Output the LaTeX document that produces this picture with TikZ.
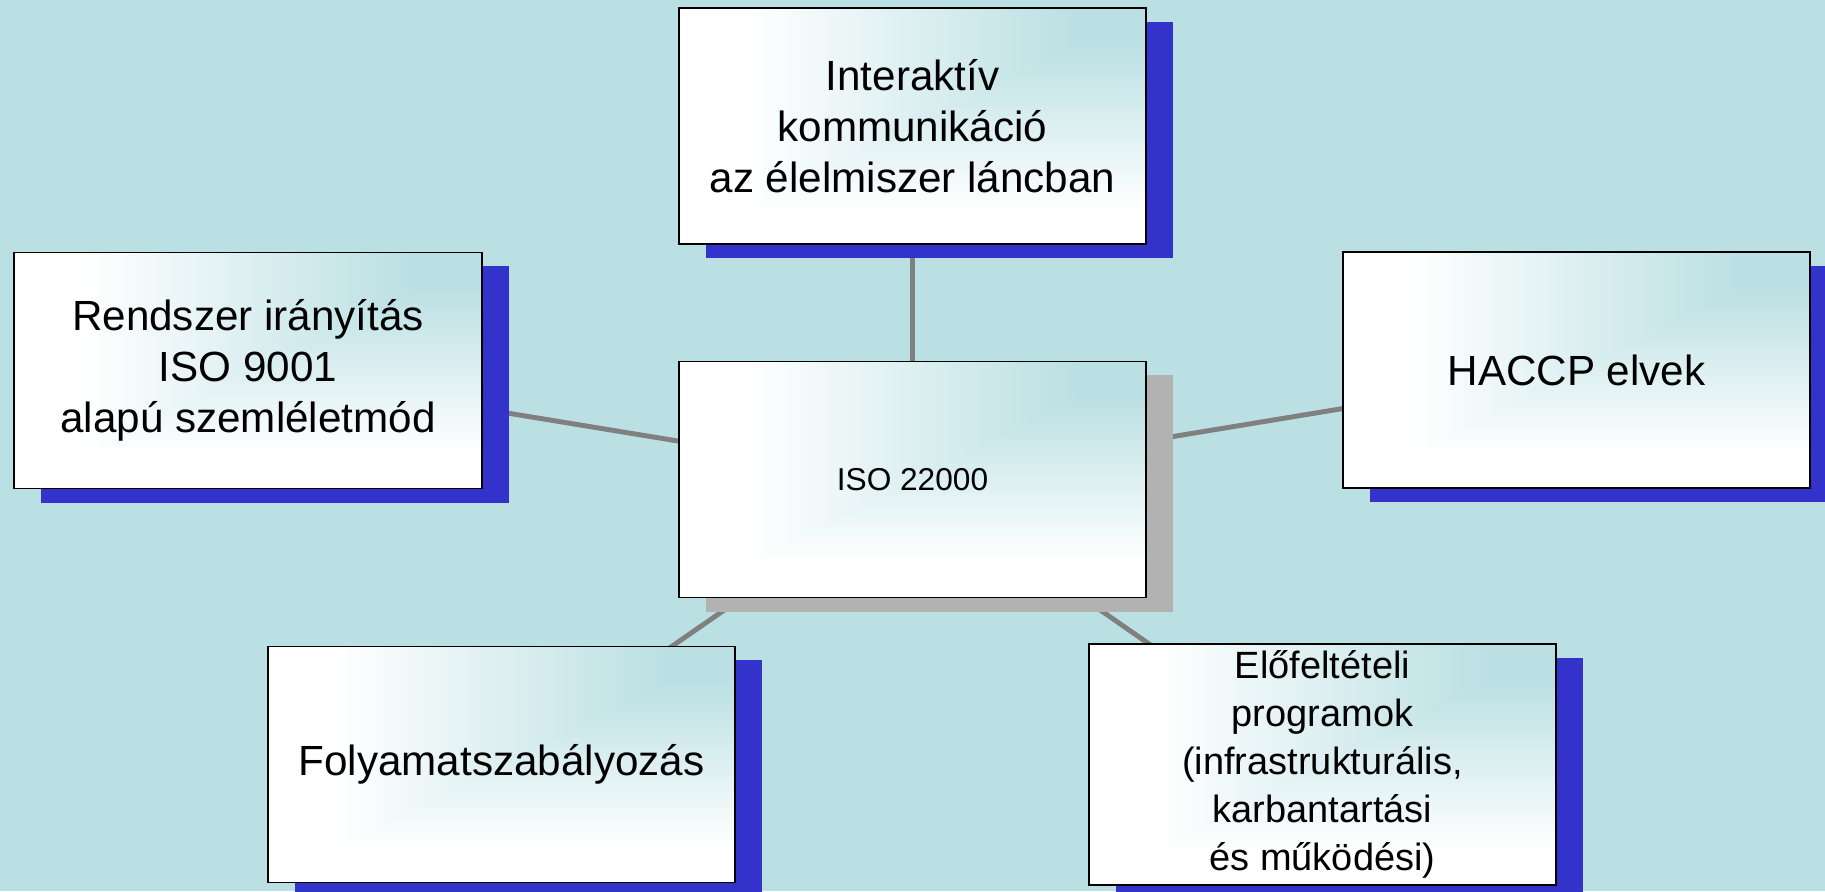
\documentclass[tikz,border=0pt]{standalone}
\usepackage{fontspec}
\setmainfont{Liberation Sans}
\usetikzlibrary{shadows,backgrounds}
\definecolor{bgcyan}{RGB}{187,224,227}
\definecolor{shadeblue}{RGB}{51,51,204}
\definecolor{shadegray}{RGB}{178,178,178}
\definecolor{linkgray}{RGB}{128,128,128}
% white towards left and bottom, background cyan in the upper right corner
\pgfdeclarefunctionalshading{cornerfade}{\pgfpoint{-50bp}{-50bp}}{\pgfpoint{50bp}{50bp}}{}{
  2 copy gt {exch} if pop
  25 add 50 div 0.15 sub 0.7 div
  dup 0 lt {pop 0} if dup 1 gt {pop 1} if
  dup -0.267 mul 1 add
  exch dup -0.122 mul 1 add
  exch -0.110 mul 1 add
}
\tikzset{
  boxbase/.style={draw=black, line width=0.5pt, minimum width=4.67cm, minimum height=2.36cm,
    inner sep=2pt, align=center, shading=cornerfade, shading angle=0},
  topic/.style={boxbase, font=\fontsize{12}{14.5}\selectfont,
    general shadow={fill=shadeblue, shadow xshift=0.27cm, shadow yshift=-0.14cm}},
  core/.style={boxbase, font=\fontsize{9}{11}\selectfont,
    general shadow={fill=shadegray, shadow xshift=0.27cm, shadow yshift=-0.14cm}},
  link/.style={draw=linkgray, line width=1.4pt}
}
\begin{document}
\begin{tikzpicture}[x=0.01cm,y=-0.01cm]
\useasboundingbox (0,0) rectangle (1825,891);
\node[core] (iso) at (912.5,479.5) {ISO 22000};
\node[topic] (komm) at (912.5,126) {Interaktív\\kommunikáció\\az élelmiszer láncban};
\node[topic] (rendszer) at (248,370.5) {Rendszer irányítás\\ISO 9001\\alapú szemléletmód};
\node[topic] (haccp) at (1576.5,370) {HACCP elvek};
\node[topic] (folyamat) at (501.5,764.5) {Folyamatszabályozás};
\node[topic,font=\fontsize{10.8}{13.6}\selectfont] (prp) at (1322.5,764.5)
  {Előfeltételi\\programok\\(infrastrukturális,\\karbantartási\\és működési)};
% background and links
\begin{scope}[on background layer]
\fill[bgcyan] (0,0) rectangle (1825,891);
\draw[link] (iso.center) -- (komm.center);
\draw[link] (iso.center) -- (rendszer.center);
\draw[link] (iso.center) -- (haccp.center);
\draw[link] (iso.center) -- (folyamat.center);
\draw[link] (iso.center) -- (prp.center);
\end{scope}
\end{tikzpicture}
\end{document}
